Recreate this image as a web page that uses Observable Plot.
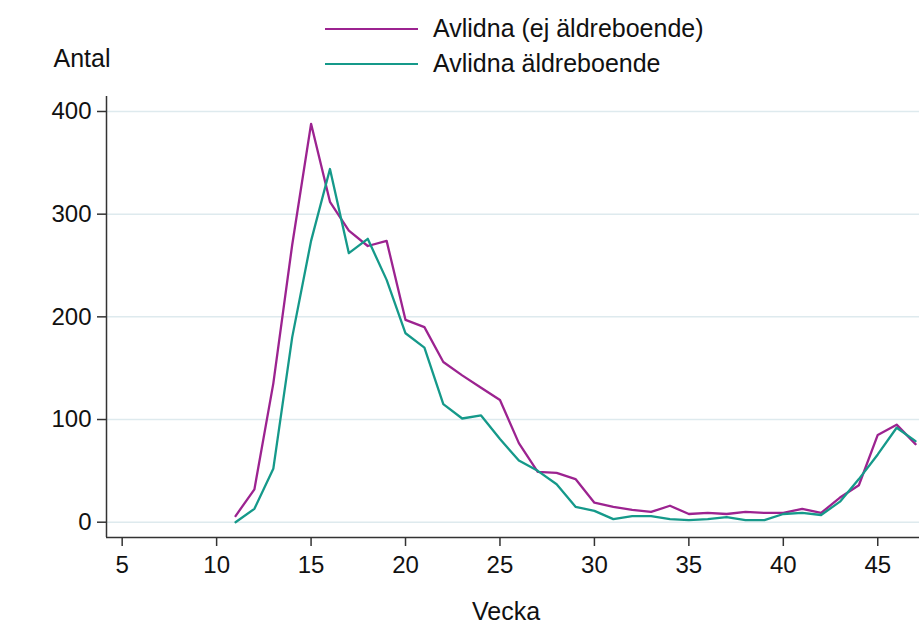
<!DOCTYPE html>
<html>
<head>
<meta charset="utf-8">
<script src="https://cdn.jsdelivr.net/npm/d3@7"></script>
<script src="https://cdn.jsdelivr.net/npm/@observablehq/plot@0.6"></script>
<style>
  html, body { margin: 0; padding: 0; background: #fff; }
  #wrap { position: relative; width: 919px; height: 639px; font-family: "Liberation Sans", Arial, sans-serif; }
  #legend { position: absolute; left: 325px; top: 11px; font-size: 25px; color: #111; }
  .item { display: flex; align-items: center; height: 35px; }
  .swatch { width: 93px; height: 0; border-top: 2.5px solid; margin-right: 15px; }
</style>
</head>
<body>
<div id="wrap">
  <div id="chart"></div>
  <div id="legend"></div>
</div>
<script>
const weeks = [11,12,13,14,15,16,17,18,19,20,21,22,23,24,25,26,27,28,29,30,31,32,33,34,35,36,37,38,39,40,41,42,43,44,45,46,47];
const ejAldreboende = [6,32,135,270,388,312,284,269,274,197,190,156,143,131,119,77,49,48,42,19,15,12,10,16,8,9,8,10,9,9,13,9,24,36,85,95,76];
const aldreboende = [0,13,52,180,274,344,262,276,236,184,170,115,101,104,81,60,50,37,15,11,3,6,6,3,2,3,5,2,2,8,9,7,20,42,66,92,79];
const seriesNames = ["Avlidna (ej äldreboende)", "Avlidna äldreboende"];
const seriesColors = ["#9c2390", "#15998a"];
const xTicks = [5,10,15,20,25,30,35,40,45];
const yTicks = [0,100,200,300,400];
const xDomain = [4.17, 47.21];
const yDomain = [-14.9, 414.6];

const rows = [];
weeks.forEach((w, i) => {
  rows.push({week: w, value: ejAldreboende[i], series: seriesNames[0]});
  rows.push({week: w, value: aldreboende[i], series: seriesNames[1]});
});

const chart = Plot.plot({
  width: 919,
  height: 639,
  marginLeft: 106,
  marginRight: 0,
  marginTop: 96,
  marginBottom: 102,
  style: {fontFamily: "'Liberation Sans', Arial, sans-serif", fontSize: "25px", color: "#111", background: "#fff"},
  x: {domain: xDomain},
  y: {domain: yDomain},
  color: {domain: seriesNames, range: seriesColors},
  marks: [
    Plot.gridY(yTicks, {stroke: "#deeaee", strokeOpacity: 1, strokeWidth: 1.5}),
    Plot.ruleY([yDomain[0]], {stroke: "#333", strokeWidth: 1.5}),
    Plot.ruleX([xDomain[0]], {stroke: "#333", strokeWidth: 1.5}),
    Plot.axisY(yTicks, {tickSize: 9, tickPadding: 6, label: null, stroke: "#333", strokeWidth: 1.5, fontSize: 24}),
    Plot.axisX(xTicks, {tickSize: 9, tickPadding: 9, label: null, stroke: "#333", strokeWidth: 1.5, fontSize: 24}),
    Plot.line(rows, {x: "week", y: "value", z: "series", stroke: "series", strokeWidth: 2.3}),
    Plot.text(["Antal"], {frameAnchor: "top-left", dx: -53, dy: -30, textAnchor: "start", lineAnchor: "bottom", fontSize: 25}),
    Plot.text(["Vecka"], {frameAnchor: "bottom", dx: -7, dy: 82, lineAnchor: "bottom", fontSize: 25})
  ]
});
document.getElementById("chart").appendChild(chart);

const legend = document.getElementById("legend");
seriesNames.forEach((name, i) => {
  const item = document.createElement("div");
  item.className = "item";
  const sw = document.createElement("span");
  sw.className = "swatch";
  sw.style.borderColor = seriesColors[i];
  const label = document.createElement("span");
  label.textContent = name;
  item.appendChild(sw);
  item.appendChild(label);
  legend.appendChild(item);
});
</script>
</body>
</html>
